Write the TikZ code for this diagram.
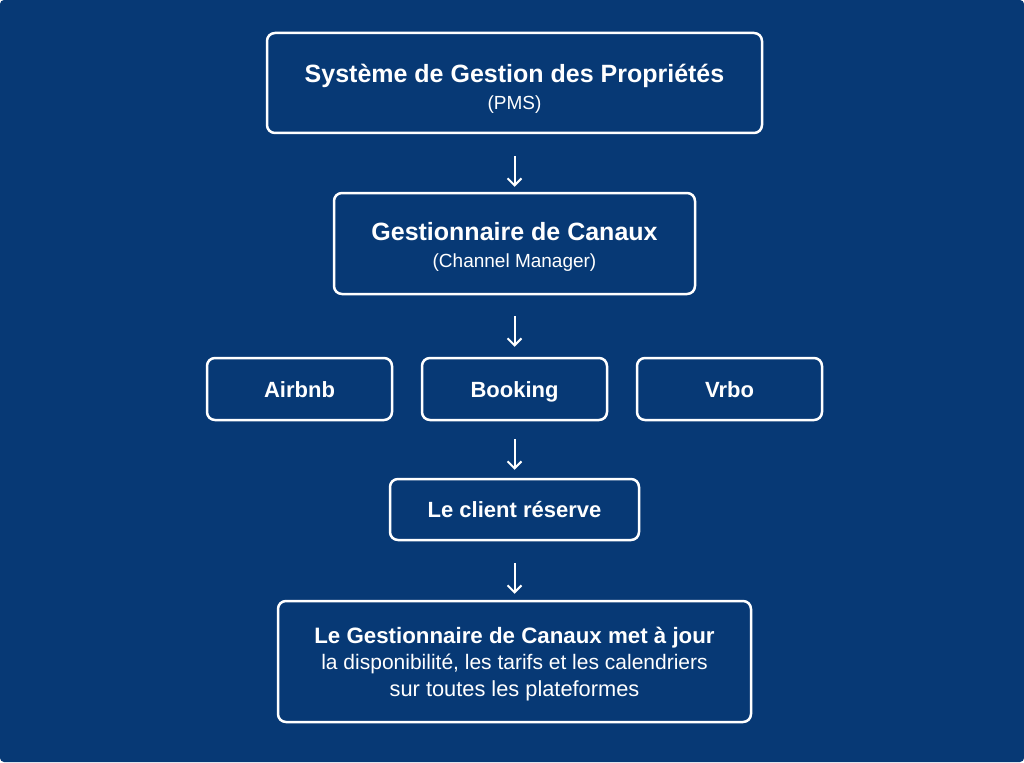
\documentclass[tikz,border=0pt]{standalone}
\usepackage{fontspec}
\setmainfont{Liberation Sans}
\usetikzlibrary{arrows.meta}
\definecolor{bg}{HTML}{073975}
\tikzset{
  box/.style={draw=white, line width=2.5pt, rounded corners=8pt, text=white, align=center, inner sep=0pt},
  small/.style={box, minimum width=185pt, minimum height=62pt, text height=20pt, text depth=4pt, font=\fontsize{22}{26}\selectfont\bfseries},
  arr/.style={draw=white, line width=2pt, -{Straight Barb[length=7pt,width=14pt,line width=2pt]}},
}
\begin{document}
\begin{tikzpicture}[x=1pt,y=-1pt]
\fill[bg, rounded corners=4pt] (0,0) rectangle (1024,762);
\useasboundingbox (0,0) rectangle (1024,762);
\node[box, minimum width=495pt, minimum height=100pt, font=\fontsize{19}{27}\selectfont] (pms) at (514.5,83)
  {\rule{0pt}{30pt}{\fontsize{25}{27}\selectfont\bfseries Système de Gestion des Propriétés}\\
   (PMS)};
\node[box, minimum width=361pt, minimum height=101pt, font=\fontsize{19}{27}\selectfont] (cm) at (514.5,243.5)
  {\rule{0pt}{24pt}{\fontsize{25}{27}\selectfont\bfseries Gestionnaire de Canaux}\\
   (Channel Manager)};
\node[small] (air) at (299.5,389) {Airbnb};
\node[small] (book) at (514.5,389) {Booking};
\node[small] (vrbo) at (729.5,389) {Vrbo};
\node[small, minimum width=249pt, minimum height=61pt] (cli) at (514.5,509.5) {Le client réserve};
\node[box, minimum width=473pt, minimum height=121pt, font=\fontsize{21}{26.5}\selectfont] (upd) at (514.5,661.5)
  {\rule{0pt}{21pt}{\fontsize{22.3}{26.5}\selectfont\bfseries Le Gestionnaire de Canaux met à jour}\\
   la disponibilité, les tarifs et les calendriers\\
   {\fontsize{21.8}{26.5}\selectfont sur toutes les plateformes}\raisebox{0pt}[0pt][2pt]{}};
\draw[arr] ([yshift=-22pt]pms.south) -- ([yshift=5pt]cm.north);
\draw[arr] ([yshift=-21pt]cm.south) -- ([yshift=10pt]book.north);
\draw[arr] ([yshift=-18pt]book.south) -- ([yshift=8pt]cli.north);
\draw[arr] ([yshift=-22pt]cli.south) -- ([yshift=6pt]upd.north);
\end{tikzpicture}
\end{document}
